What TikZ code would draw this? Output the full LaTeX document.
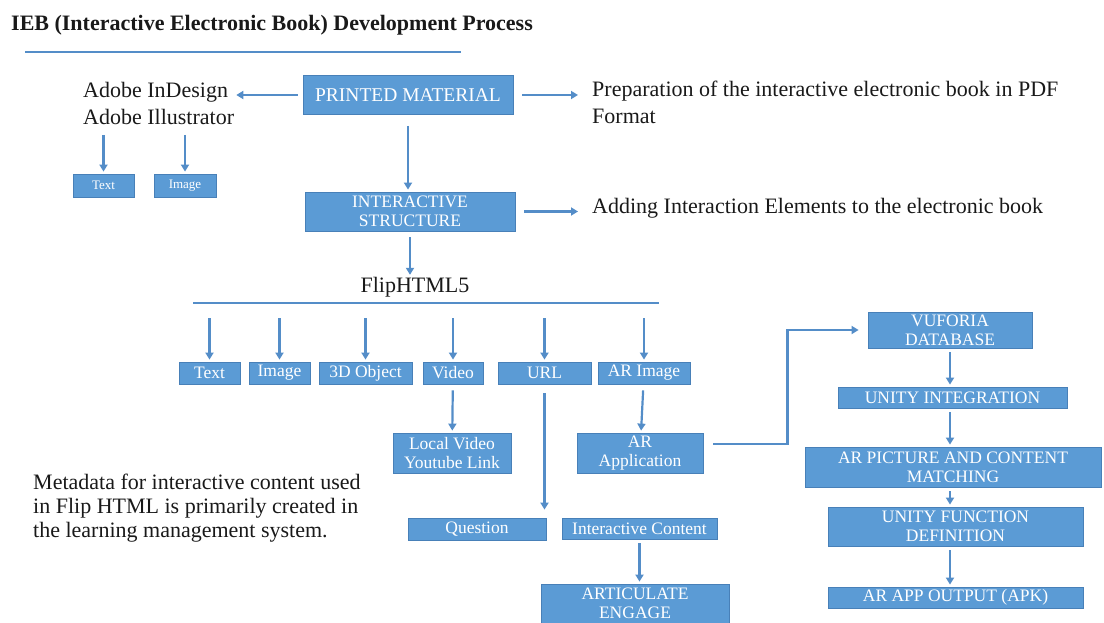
\documentclass[tikz,border=0pt]{standalone}
\usepackage{fontspec}
\setmainfont{Liberation Serif}
\usetikzlibrary{arrows.meta}
\definecolor{boxblue}{RGB}{91,155,213}
\definecolor{boxline}{RGB}{72,128,184}
\definecolor{arrowblue}{RGB}{84,141,200}
\tikzset{
	box/.style={draw=boxline, line width=0.8pt, fill=boxblue, text=white, inner sep=1pt, align=center, font=\fontsize{17.5}{19}\selectfont},
	arr/.style={draw=arrowblue, line width=2.2pt, -{Triangle[length=7pt,width=8pt]}},
	gap/.style={shorten <=#1, shorten >=2pt},
	txt/.style={inner sep=0pt, align=left, anchor=west, text=black!90, font=\fontsize{22}{27}\selectfont}
}
\begin{document}
\begin{tikzpicture}[x=1pt, y=-1pt]
			\useasboundingbox (0,0) rectangle (1104,623);
			\node[txt, font=\bfseries\fontsize{22}{24}\selectfont] (title) at (11,25) {IEB (Interactive Electronic Book) Development Process};
			\draw[arrowblue, line width=1.5pt] (25,52) -- (461,52);
			\node[box, minimum width=210pt, minimum height=39pt, font=\fontsize{19.5}{21}\selectfont] (pm) at (408,95) {PRINTED MATERIAL};
			\node[box, minimum width=210pt, minimum height=39pt] (is) at (410,211.5) {INTERACTIVE\\STRUCTURE};
			\node[txt] (adobe) at (83,103.5) {Adobe InDesign\\Adobe Illustrator};
			\node[txt] (prep) at (592,102.5) {Preparation of the interactive electronic book in PDF\\Format};
			\node[txt] (add) at (592,208) {Adding Interaction Elements to the electronic book};
			\node[inner sep=0pt, font=\fontsize{22}{24}\selectfont, text=black!90] (flip) at (415,287) {FlipHTML5};
			\node[box, minimum width=61pt, minimum height=23pt, font=\fontsize{13}{15}\selectfont] (txtA) at (103.5,185.5) {Text};
			\node[box, minimum width=62pt, minimum height=23pt, font=\fontsize{13}{15}\selectfont] (imgA) at (185,185.5) {Image};
			\draw[arr, gap=5pt] (pm.west) -- (adobe.east |- pm.west);
			\draw[arr, gap=9pt, shorten >=14pt] (pm.east) -- (prep.west |- pm.east);
			\draw[arr, gap=9pt, shorten >=14pt] (is.east) -- (add.west |- is.east);
			\draw[arr, gap=11pt] (pm.south) -- (pm.south |- is.north);
			\draw[arr, gap=6pt] (is.south) -- (is.south |- flip.north);
			\foreach \n in {txtA,imgA}{
				\draw[arr, gap=10pt] (adobe.south -| \n.north) -- (\n.north);
			}
			\coordinate (barL) at (193,303);
			\coordinate (barR) at (659,303);
			\draw[arrowblue, line width=1.5pt] (barL) -- (barR);
			\foreach \n/\x/\w/\t in {t1/209.5/61/Text, i1/279.5/61/Image, o1/365.5/93/3D Object, v1/453/60/Video, u1/544.5/93/URL, a1/644/92/AR Image}{
				\node[box, minimum width=\w pt, minimum height=22pt] (\n) at (\x,373) {\t};
				\draw[arr, gap=15pt] (barL -| \n.north) -- (\n.north);
			}
			\node[box, minimum width=118pt, minimum height=40pt] (local) at (452,453) {Local Video\\Youtube Link};
			\node[box, minimum width=126pt, minimum height=40pt] (arapp) at (640,453) {AR\\Application};
			\node[box, minimum width=138pt, minimum height=22pt] (quest) at (477,529) {Question};
			\node[box, minimum width=155pt, minimum height=21pt] (icont) at (639.5,528.5) {Interactive Content};
			\node[box, minimum width=188pt, minimum height=39pt] (artic) at (635,603.5) {ARTICULATE\\ENGAGE};
			\draw[arr, gap=6pt] (v1) -- (local);
			\draw[arr, gap=6pt] (a1) -- (arapp);
			\draw[arr, gap=9pt, shorten >=8pt] (u1) -- (u1 |- quest.north);
			\draw[arr, gap=4pt] (icont) -- (icont |- artic.north);
			\node[txt, font=\fontsize{22}{24}\selectfont] (meta) at (33,508) {Metadata for interactive content used\\in Flip HTML is primarily created in\\the learning management system.};
			\node[box, minimum width=164pt, minimum height=36pt] (vuf) at (950,330) {VUFORIA\\DATABASE};
			\node[box, minimum width=229pt, minimum height=21pt] (ui) at (952.5,397.5) {UNITY INTEGRATION};
			\node[box, minimum width=296pt, minimum height=40pt] (arp) at (953,467) {AR PICTURE AND CONTENT\\MATCHING};
			\node[box, minimum width=255pt, minimum height=39pt] (ufd) at (955.5,526.5) {UNITY FUNCTION\\DEFINITION};
			\node[box, minimum width=255pt, minimum height=21pt] (apk) at (955.5,597.5) {AR APP OUTPUT (APK)};
			\draw[arr, gap=10pt, shorten >=9pt] ([yshift=9pt]arapp.east) -- ++(84,0) |- (vuf.west);
			\foreach \a/\b in {vuf/ui, ui/arp, arp/ufd, ufd/apk}{
				\draw[arr, gap=4pt] (\a.south -| vuf.south) -- (\b.north -| vuf.south);
			}
		\end{tikzpicture}
\end{document}
